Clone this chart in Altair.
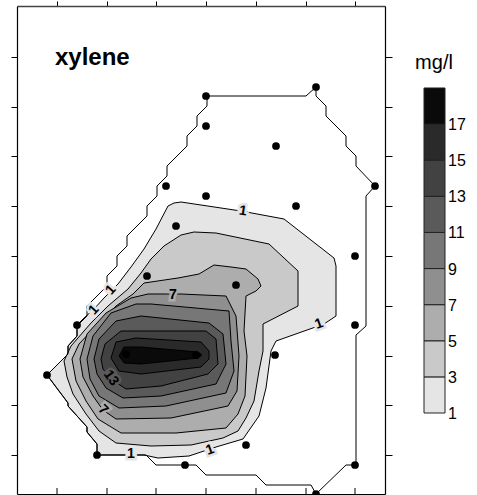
import altair as alt
import pandas as pd

FONT = "Liberation Sans"

# ---- map coordinates (m) ----
x_ticks = [40, 90, 139, 189, 239, 289, 338]
y_ticks = [39, 89, 138, 188, 238, 288, 338, 387, 437]

# interpolation boundary
boundary_x = [189, 289, 299, 299, 309, 309, 329, 329, 339, 339, 358, 349, 349, 339, 339, 329, 299, 294, 249, 239, 189, 179, 139, 129, 80, 80, 70, 70, 51, 51, 30, 51, 51, 60, 60, 70, 70, 90, 90, 100, 100, 110, 110, 130, 130, 140, 140, 150, 150, 170, 170, 180, 180, 190, 190]
boundary_y = [398, 398, 407, 398, 388, 378, 358, 348, 338, 328, 308, 298, 168, 159, 29, 29, 0, 9, 9, 19, 19, 29, 29, 39, 39, 50, 62, 67, 88, 91, 119, 140, 148, 158, 168, 178, 188, 208, 218, 228, 238, 248, 258, 278, 288, 298, 308, 318, 328, 348, 358, 368, 378, 388, 398]

# sampling wells
well_x = [189, 299, 189, 259, 149, 358, 189, 279, 159, 130, 219, 338, 60, 338, 109, 179, 258, 30, 80, 168, 229, 338, 299]
well_y = [398, 407, 368, 348, 308, 308, 298, 288, 268, 218, 209, 238, 169, 169, 140, 139, 139, 119, 39, 29, 49, 29, 0]

# contour polygons (region >= level)
c1_x = [60, 67, 77, 87, 94, 101, 114, 127, 139, 151, 157, 164, 224, 267, 317, 319, 319, 307, 259, 254, 249, 242, 226, 199, 172, 141, 127, 80, 80, 70, 70, 51, 51, 30, 51, 51, 60]
c1_y = [169, 176, 185, 196, 203, 210, 227, 245, 265, 288, 291, 292, 283, 275, 236, 228, 178, 170, 153, 143, 106, 78, 55, 47, 38, 36, 39, 39, 50, 62, 67, 88, 91, 119, 140, 148, 158]
c3_x = [47, 54, 67, 74, 91, 111, 124, 134, 147, 164, 177, 199, 252, 281, 281, 246, 246, 242, 237, 229, 221, 206, 174, 134, 99, 82, 69, 56, 50]
c3_y = [133, 148, 163, 171, 188, 205, 221, 235, 248, 259, 262, 261, 250, 223, 188, 170, 143, 123, 93, 76, 63, 56, 49, 48, 51, 63, 80, 100, 117]
c5_x = [55, 62, 79, 99, 116, 127, 161, 182, 197, 214, 229, 241, 244, 239, 229, 227, 230, 228, 221, 209, 159, 104, 81, 69, 59]
c5_y = [135, 150, 168, 188, 200, 211, 216, 220, 229, 227, 225, 215, 208, 203, 198, 163, 138, 98, 80, 66, 61, 61, 75, 93, 113]
c7_x = [63, 70, 89, 114, 131, 164, 209, 219, 222, 220, 211, 154, 99, 86, 76, 66]
c7_y = [135, 160, 181, 196, 200, 200, 198, 178, 138, 103, 88, 76, 75, 84, 98, 117]
c9_x = [70, 76, 94, 119, 134, 212, 214, 217, 209, 149, 102, 82, 73]
c9_y = [135, 158, 181, 190, 190, 183, 153, 123, 101, 88, 86, 98, 115]
c11_x = [77, 82, 99, 124, 192, 206, 209, 199, 144, 106, 89, 80]
c11_y = [135, 155, 173, 178, 171, 160, 130, 110, 98, 96, 106, 120]
c13_x = [84, 88, 104, 189, 199, 201, 191, 144, 109, 94, 86]
c13_y = [135, 150, 163, 163, 155, 130, 120, 108, 105, 115, 125]
c15_x = [94, 99, 119, 184, 192, 192, 184, 124, 102]
c15_y = [136, 152, 156, 152, 143, 135, 127, 120, 123]
c17_x = [102, 107, 124, 181, 185, 181, 124, 107]
c17_y = [138, 147, 147, 142, 139, 136, 130, 131]

levels = [1, 3, 5, 7, 9, 11, 13, 15, 17]
level_colors = ["#e5e5e5", "#c9c9c9", "#adadad", "#8f8f8f", "#777777",
                "#5a5a5a", "#424242", "#2a2a2a", "#0a0a0a"]
contours = [(c1_x, c1_y), (c3_x, c3_y), (c5_x, c5_y), (c7_x, c7_y), (c9_x, c9_y),
            (c11_x, c11_y), (c13_x, c13_y), (c15_x, c15_y), (c17_x, c17_y)]

# contour labels
lab_text = ["1", "1", "1", "7", "1", "13", "7", "1", "1"]
lab_x = [226, 94, 77, 156, 302, 94, 86, 114, 193]
lab_y = [283, 204, 184, 199, 170, 116, 84, 40, 44]
lab_angle = [8, 312, 312, 0, 340, 55, 45, 0, 340]
lab_halo = ["#e5e5e5", "#e5e5e5", "#e5e5e5", "#adadad", "#e5e5e5",
            "#5a5a5a", "#adadad", "#e5e5e5", "#e5e5e5"]

# legend
leg_lo = [1, 3, 5, 7, 9, 11, 13, 15, 17]
leg_hi = [3, 5, 7, 9, 11, 13, 15, 17, 19]
leg_labels = [1, 3, 5, 7, 9, 11, 13, 15, 17]

XS = alt.Scale(domain=[0, 368], nice=False, zero=False)
YS = alt.Scale(domain=[0, 488], nice=False, zero=False)
NOVIEW = alt.ViewBackground(stroke="transparent", strokeWidth=0)


def poly_df(xs, ys):
    pts = list(zip(xs, ys)) + [(xs[0], ys[0])]
    return pd.DataFrame({"x": [p[0] for p in pts], "y": [p[1] for p in pts],
                         "i": list(range(len(pts)))})


ax_bottom = alt.Axis(orient="bottom", values=x_ticks, labels=False, ticks=False,
                     domain=True, domainColor="black", domainWidth=1.2, grid=False, title=None)
ax_top = alt.Axis(orient="top", values=x_ticks, labels=False, ticks=True, tickSize=5,
                  tickColor="black", domain=True, domainColor="#444444", domainWidth=1.5,
                  grid=False, title=None)
ay_left = alt.Axis(orient="left", values=y_ticks, labels=False, ticks=True, tickSize=6,
                   tickColor="black", domain=True, domainColor="black", domainWidth=1.2,
                   grid=False, title=None)
ay_right = alt.Axis(orient="right", values=y_ticks, labels=False, ticks=True, tickSize=7,
                    tickColor="black", domain=True, domainColor="black", domainWidth=1.2,
                    grid=False, title=None)

layers = []
for k, ((xs, ys), col) in enumerate(zip(contours, level_colors)):
    if k == 0:
        xe = alt.X("x:Q", scale=XS, axis=ax_bottom)
        ye = alt.Y("y:Q", scale=YS, axis=ay_left)
    else:
        xe = alt.X("x:Q", scale=XS, axis=None)
        ye = alt.Y("y:Q", scale=YS, axis=None)
    layers.append(
        alt.Chart(poly_df(xs, ys)).mark_line(fill=col, stroke="black", strokeWidth=1,
                                            strokeJoin="miter")
        .encode(x=xe, y=ye, order="i:Q")
    )

boundary = alt.Chart(poly_df(boundary_x, boundary_y)).mark_line(
    stroke="black", strokeWidth=1).encode(
    x=alt.X("x:Q", scale=XS, axis=ax_top),
    y=alt.Y("y:Q", scale=YS, axis=ay_right),
    order="i:Q")
layers.append(boundary)

# inward ticks on bottom edge
bt = pd.DataFrame({"x": x_ticks, "y0": [0] * len(x_ticks), "y1": [6] * len(x_ticks)})
layers.append(alt.Chart(bt).mark_rule(color="black", strokeWidth=1).encode(
    x=alt.X("x:Q", scale=XS, axis=None), y=alt.Y("y0:Q", scale=YS, axis=None), y2="y1:Q"))

labs = pd.DataFrame({"t": lab_text, "x": lab_x, "y": lab_y, "a": lab_angle, "h": lab_halo})
halo = alt.Chart(labs).mark_text(font=FONT, fontSize=14, fontWeight="bold",
                                 strokeWidth=5, align="center", baseline="middle").encode(
    x=alt.X("x:Q", scale=XS, axis=None), y=alt.Y("y:Q", scale=YS, axis=None),
    text="t:N", angle=alt.Angle("a:Q", scale=None),
    stroke=alt.Stroke("h:N", scale=None), fill=alt.Fill("h:N", scale=None))
txt = alt.Chart(labs).mark_text(font=FONT, fontSize=14, fontWeight="bold", color="black",
                                align="center", baseline="middle").encode(
    x=alt.X("x:Q", scale=XS, axis=None), y=alt.Y("y:Q", scale=YS, axis=None),
    text="t:N", angle=alt.Angle("a:Q", scale=None))
layers += [halo, txt]

wells = pd.DataFrame({"x": well_x, "y": well_y})
layers.append(alt.Chart(wells).mark_point(filled=True, color="black", size=60, opacity=1).encode(
    x=alt.X("x:Q", scale=XS, axis=None), y=alt.Y("y:Q", scale=YS, axis=None)))

title_df = pd.DataFrame({"x": [38], "y": [429], "t": ["xylene"]})
layers.append(alt.Chart(title_df).mark_text(font=FONT, fontSize=24, fontWeight="bold",
                                            align="left", baseline="alphabetic", color="black").encode(
    x=alt.X("x:Q", scale=XS, axis=None), y=alt.Y("y:Q", scale=YS, axis=None), text="t:N"))

main = alt.layer(*layers).resolve_axis(x="independent", y="independent").properties(
    width=368, height=488, view=NOVIEW)

# ---- legend ----
LX = alt.Scale(domain=[0, 60], nice=False, zero=False)
LY = alt.Scale(domain=[-3.486, 23.541], nice=False, zero=False)
leg = pd.DataFrame({"lo": leg_lo, "hi": leg_hi, "c": level_colors,
                    "x0": [19] * 9, "x1": [40] * 9})
leg_rect = alt.Chart(leg).mark_rect(stroke="#222222", strokeWidth=1).encode(
    x=alt.X("x0:Q", scale=LX, axis=None), x2="x1:Q",
    y=alt.Y("lo:Q", scale=LY, axis=None), y2="hi:Q",
    fill=alt.Fill("c:N", scale=None))
ll = pd.DataFrame({"v": leg_labels, "x": [43] * 9})
leg_txt = alt.Chart(ll).mark_text(font=FONT, fontSize=16, align="left", baseline="middle",
                                  color="black", dy=1).encode(
    x=alt.X("x:Q", scale=LX, axis=None), y=alt.Y("v:Q", scale=LY, axis=None), text="v:N")
unit_df = pd.DataFrame({"x": [29], "y": [20.38], "t": ["mg/l"]})
leg_unit = alt.Chart(unit_df).mark_text(font=FONT, fontSize=20, align="center",
                                        baseline="middle", color="black").encode(
    x=alt.X("x:Q", scale=LX, axis=None), y=alt.Y("y:Q", scale=LY, axis=None), text="t:N")
legend = alt.layer(leg_rect, leg_txt, leg_unit).properties(width=60, height=488, view=NOVIEW)

chart = alt.hconcat(main, legend, spacing=12).properties(
    padding={"left": 10, "top": 0, "right": 0, "bottom": 0}, background="white"
).configure_view(strokeWidth=0, stroke="transparent")

chart.save("out.html", embed_options={"renderer": "svg", "actions": False})
